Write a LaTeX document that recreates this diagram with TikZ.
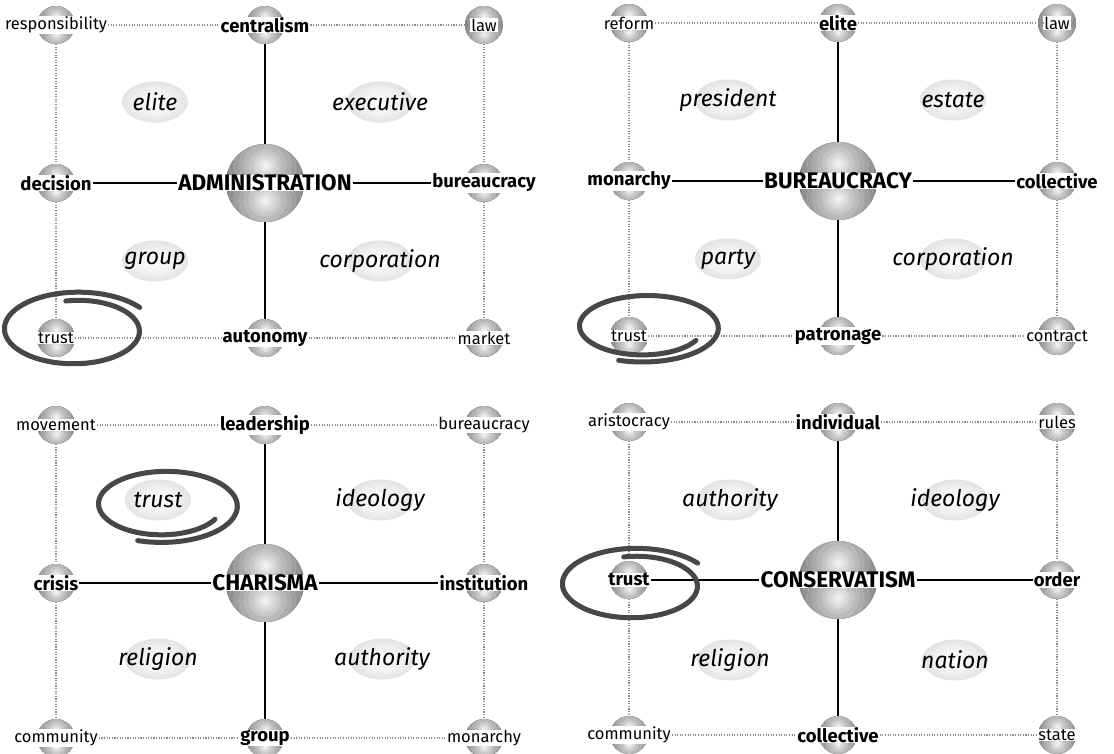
\documentclass[tikz,border=0pt]{standalone}
\usepackage{fontspec}
\setmainfont{Fira Sans}
\usetikzlibrary{calc, shapes.geometric}

\pgfdeclareradialshading{glint}{\pgfpoint{0bp}{0bp}}{color(0bp)=(black!4); color(8bp)=(black!25); color(22bp)=(black!52); color(38bp)=(black!70); color(50bp)=(black!80)}
\pgfdeclareradialshading{haze}{\pgfpoint{0bp}{0bp}}{color(0bp)=(white); color(16bp)=(black!6); color(34bp)=(black!16); color(50bp)=(black!27)}

% hand drawn loop: centre x, centre y, rx, ry, start angle, end angle
\newcommand\scribble[6]{%
  \draw[brush] plot[smooth, domain=0:1, samples=80, variable=\t]
    ({#1+#3*(0.92+0.3*\t)*cos(#5+(#6-#5)*\t)}, {#2-#4*(0.92+0.3*\t)*sin(#5+(#6-#5)*\t)});
  \draw[brush, line width=2.5pt] plot[smooth, domain=0.1:0.9, samples=80, variable=\t]
    ({#1+#3*(0.935+0.3*\t)*cos(#5+(#6-#5)*\t)}, {#2-#4*(0.95+0.3*\t)*sin(#5+(#6-#5)*\t)});
}

% the eight lines of one panel
\newcommand\wire[1]{%
  \draw[spoke] (#1-n) -- (#1-c);
  \draw[spoke] (#1-c) -- (#1-s);
  \draw[spoke] (#1-w-t) -- (#1-c-t);
  \draw[spoke] (#1-c-t) -- (#1-e-t);
  \draw[trail] (#1-nw-t) -- (#1-n-t);
  \draw[trail] (#1-n-t) -- (#1-ne-t);
  \draw[trail] (#1-sw-t) -- (#1-s-t);
  \draw[trail] (#1-s-t) -- (#1-se-t);
  \draw[trail] (#1-nw) -- (#1-w);
  \draw[trail] (#1-w) -- (#1-sw);
  \draw[trail] (#1-ne) -- (#1-e);
  \draw[trail] (#1-e) -- (#1-se);
}

\tikzset{
  orb/.style={circle, inner sep=0pt, minimum size=#1, path picture={
      \fill[black!72] (path picture bounding box.south west) rectangle (path picture bounding box.north east);
      \foreach \half in {north, south}{
        \begin{scope}
          \clip (path picture bounding box.west) rectangle (path picture bounding box.\half\space east);
          \coordinate (glow) at ($(path picture bounding box.center)!0.45!(path picture bounding box.\half)$);
          \shade[shading=glint] (glow) circle (0.62*#1);
          \foreach \k in {1,...,9}
            \draw[white, opacity=0.22, line width=0.5pt] (glow) circle (\k*0.065*#1);
        \end{scope}
      }}},
  hub/.style={font=\bfseries\fontsize{22.5}{24}\selectfont, fill=white, inner xsep=1pt, inner ysep=0pt},
  major/.style={font=\bfseries\fontsize{18.5}{20}\selectfont, fill=white, inner xsep=1pt, inner ysep=0.5pt},
  minor/.style={font=\fontsize{16.5}{18}\selectfont, fill=white, inner xsep=1pt, inner ysep=0.5pt},
  blob/.style={ellipse, minimum width=66pt, minimum height=41pt, inner sep=0pt, shading=haze},
  topic/.style={font=\itshape\fontsize{23}{25}\selectfont, inner sep=0pt},
  spoke/.style={draw=black, line width=1.6pt},
  trail/.style={draw=black!45, line width=1.1pt, dash pattern=on 1.1pt off 1.5pt},
  brush/.style={draw=black!72, line width=5pt, line cap=round, line join=round}
}

\begin{document}
\begin{tikzpicture}[x=1pt, y=-1pt]
\fill[white] (0,0) rectangle (1114,754);
\useasboundingbox (0,0) rectangle (1114,754);

% ==================== ADMINISTRATION ====================
\coordinate (A) at (265,183);
\node[orb=78pt] (A-c) at (A) {};
\node[hub] (A-c-t) at (A) {ADMINISTRATION};
\foreach \pos/\dx/\dy/\sty/\txt in {nw/-209/-158/minor/responsibility, n/0/-158/major/centralism,
    ne/219/-158/minor/law, w/-209/0/major/decision, e/219/0/major/bureaucracy,
    sw/-209/155/minor/trust, s/0/155/major/autonomy, se/219/155/minor/market}{
  \node[orb=38pt] (A-\pos) at ($(A)+(\dx,\dy)$) {};
  \node[\sty] (A-\pos-t) at (A-\pos) {\txt};
}
\foreach \pos/\dx/\dy/\txt in {q1/-110/-81/elite, q2/115/-81/executive, q3/-110/78/group, q4/115/78/corporation}{
  \node[blob] (A-\pos) at ($(A)+(\dx,\dy)$) {};
  \node[topic] (A-\pos-t) at (A-\pos) {\txt};
}
\wire{A}

% ==================== BUREAUCRACY ====================
\coordinate (B) at (838,181);
\node[orb=78pt] (B-c) at (B) {};
\node[hub] (B-c-t) at (B) {BUREAUCRACY};
\foreach \pos/\dx/\dy/\sty/\txt in {nw/-209/-158/minor/reform, n/0/-158/major/elite,
    ne/219/-158/minor/law, w/-209/0/major/monarchy, e/219/0/major/collective,
    sw/-209/155/minor/trust, s/0/155/major/patronage, se/219/155/minor/contract}{
  \node[orb=38pt] (B-\pos) at ($(B)+(\dx,\dy)$) {};
  \node[\sty] (B-\pos-t) at (B-\pos) {\txt};
}
\foreach \pos/\dx/\dy/\txt in {q1/-110/-81/president, q2/115/-81/estate, q3/-110/78/party, q4/115/78/corporation}{
  \node[blob] (B-\pos) at ($(B)+(\dx,\dy)$) {};
  \node[topic] (B-\pos-t) at (B-\pos) {\txt};
}
\wire{B}

% ==================== CHARISMA ====================
\coordinate (C) at (265,583);
\node[orb=78pt] (C-c) at (C) {};
\node[hub] (C-c-t) at (C) {CHARISMA};
\foreach \pos/\dx/\dy/\sty/\txt in {nw/-209/-158/minor/movement, n/0/-158/major/leadership,
    ne/219/-158/minor/bureaucracy, w/-209/0/major/crisis, e/219/0/major/institution,
    sw/-209/155/minor/community, s/0/155/major/group, se/219/155/minor/monarchy}{
  \node[orb=38pt] (C-\pos) at ($(C)+(\dx,\dy)$) {};
  \node[\sty] (C-\pos-t) at (C-\pos) {\txt};
}
\foreach \pos/\dx/\dy/\txt in {q1/-107/-83/trust, q2/115/-83/ideology, q3/-107/76/religion, q4/117/76/authority}{
  \node[blob] (C-\pos) at ($(C)+(\dx,\dy)$) {};
  \node[topic] (C-\pos-t) at (C-\pos) {\txt};
}
\wire{C}

% ==================== CONSERVATISM ====================
\coordinate (D) at (838,580);
\node[orb=78pt] (D-c) at (D) {};
\node[hub] (D-c-t) at (D) {CONSERVATISM};
\foreach \pos/\dx/\dy/\sty/\txt in {nw/-209/-158/minor/aristocracy, n/0/-158/major/individual,
    ne/219/-158/minor/rules, w/-209/0/major/trust, e/219/0/major/order,
    sw/-209/155/minor/community, s/0/155/major/collective, se/219/155/minor/state}{
  \node[orb=38pt] (D-\pos) at ($(D)+(\dx,\dy)$) {};
  \node[\sty] (D-\pos-t) at (D-\pos) {\txt};
}
\foreach \pos/\dx/\dy/\txt in {q1/-108/-80/authority, q2/117/-80/ideology, q3/-108/80/religion, q4/117/80/nation}{
  \node[blob] (D-\pos) at ($(D)+(\dx,\dy)$) {};
  \node[topic] (D-\pos-t) at (D-\pos) {\txt};
}
\wire{D}

% ==================== TRUST LOOPS ====================
\scribble{76}{330}{64}{32}{460}{35}
\scribble{645}{327}{64}{29}{690}{250}
\scribble{164}{505}{64}{31}{690}{250}
\scribble{634}{585}{64}{31}{460}{35}

\end{tikzpicture}
\end{document}
